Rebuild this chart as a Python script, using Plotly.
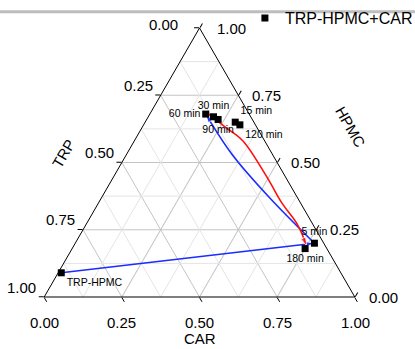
import plotly.graph_objects as go

# puntos medidos (fracciones)
labels = ["TRP-HPMC", "5 min", "15 min", "30 min", "60 min", "90 min", "120 min", "180 min"]
trp = [0.90, 0.03, 0.06, 0.12, 0.14, 0.11, 0.05, 0.07]
hpmc = [0.09, 0.20, 0.65, 0.67, 0.68, 0.66, 0.64, 0.18]
car = [0.01, 0.77, 0.29, 0.21, 0.18, 0.23, 0.31, 0.75]
label_pos = ["bottom right", "top center", "top right", "top center",
             "middle left", "bottom center", "bottom right", "bottom center"]

# trayectorias (azul: TRP-HPMC -> 5 min -> 60 min, roja: 60 min -> 180 min)
blue1_trp = [0.90, 0.03]
blue1_hpmc = [0.09, 0.20]
blue1_car = [0.01, 0.77]
blue2_trp = [0.03, 0.09, 0.13, 0.14]
blue2_hpmc = [0.20, 0.37, 0.53, 0.68]
blue2_car = [0.77, 0.54, 0.34, 0.18]
red_trp = [0.13, 0.10, 0.07, 0.06, 0.06, 0.05, 0.06]
red_hpmc = [0.68, 0.63, 0.58, 0.44, 0.35, 0.27, 0.19]
red_car = [0.19, 0.27, 0.35, 0.50, 0.59, 0.68, 0.75]

ticks = [0, 0.25, 0.5, 0.75, 1]

fig = go.Figure()

# rejilla menor (0.125)
for v in [0.125, 0.375, 0.625, 0.875]:
    for a_, b_, c_ in [([v, v], [1 - v, 0], [0, 1 - v]),
                       ([1 - v, 0], [v, v], [0, 1 - v]),
                       ([1 - v, 0], [0, 1 - v], [v, v])]:
        fig.add_trace(go.Scatterternary(a=a_, b=b_, c=c_, mode="lines",
                                        line=dict(color="#e4e4e4", width=1),
                                        hoverinfo="skip", showlegend=False))


def path(a, b, c, color):
    n = len(a)
    fig.add_trace(go.Scatterternary(
        a=a, b=b, c=c, mode="lines+markers",
        line=dict(color=color, width=1.6, shape="spline", smoothing=1),
        marker=dict(symbol="arrow", size=[0] * (n - 1) + [9], color=color,
                    angleref="previous"),
        hoverinfo="skip", showlegend=False))


path(blue1_hpmc, blue1_trp, blue1_car, "#1a2cff")
path(blue2_hpmc, blue2_trp, blue2_car, "#1a2cff")
path(red_hpmc, red_trp, red_car, "#ff1010")

fig.add_trace(go.Scatterternary(
    a=hpmc, b=trp, c=car, mode="markers+text",
    text=labels, textposition=label_pos, cliponaxis=False,
    textfont=dict(size=10.5, color="black"),
    marker=dict(symbol="square", size=7, color="black"),
    name="TRP-HPMC+CAR"))

axis = dict(tickvals=ticks, showticklabels=False, ticks="outside", ticklen=5,
            tickcolor="black", linecolor="black", linewidth=1,
            gridcolor="#c4c4c4", gridwidth=1, showline=True, showgrid=True,
            title=dict(text=""))

# etiquetas de los ejes al estilo Origin (papel: el triangulo ocupa [0,1]x[0,1])
ann = []
for t in ticks:
    # TRP, lado izquierdo (TRP = t)
    ann.append(dict(text="%.2f" % t, x=t * 0 + (1 - t) / 2, y=1 - t,
                    xanchor="right", yanchor="middle",
                    xshift=-20 if t == 0 else -6, yshift=4 if t == 0 else 10))
    # CAR, base
    ann.append(dict(text="%.2f" % t, x=t, y=0, xanchor="center",
                    yanchor="middle", yshift=-25))
    # HPMC, lado derecho
    ann.append(dict(text="%.2f" % t, x=1 - t / 2, y=t, xanchor="left",
                    yanchor="middle", xshift=15 if t == 1 else 12))
for a in ann:
    a.update(xref="paper", yref="paper", showarrow=False, font=dict(size=15))

ann += [
    dict(text="TRP", x=0.062, y=0.535, xref="paper", yref="paper",
         xanchor="center", yanchor="middle",
         showarrow=False, textangle=-60, font=dict(size=15)),
    dict(text="HPMC", x=0.984, y=0.632, xref="paper", yref="paper",
         xanchor="center", yanchor="middle",
         showarrow=False, textangle=60, font=dict(size=15)),
    dict(text="CAR", x=0.502, y=-0.156, xref="paper", yref="paper",
         xanchor="center", yanchor="middle",
         showarrow=False, font=dict(size=15)),
]

fig.update_layout(
    width=415, height=349,
    margin=dict(l=44, r=60, t=28, b=52, autoexpand=False),
    paper_bgcolor="white",
    font=dict(family="Liberation Sans, Arial, sans-serif", color="black"),
    ternary=dict(sum=1, bgcolor="white", aaxis=axis, baxis=axis, caxis=axis,
                 domain=dict(x=[0, 1], y=[0, 1])),
    legend=dict(x=0.646, y=1.10, xanchor="left", yanchor="top",
                bgcolor="rgba(0,0,0,0)", font=dict(size=16)),
    shapes=[dict(type="line", xref="paper", yref="paper", x0=-0.2, x1=1.3,
                 y0=1.060, y1=1.060, line=dict(color="#bdbdbd", width=3))],
    annotations=ann,
)

fig.write_html("out.html", config={"displayModeBar": False},
               post_script="document.body.style.margin='0';")
